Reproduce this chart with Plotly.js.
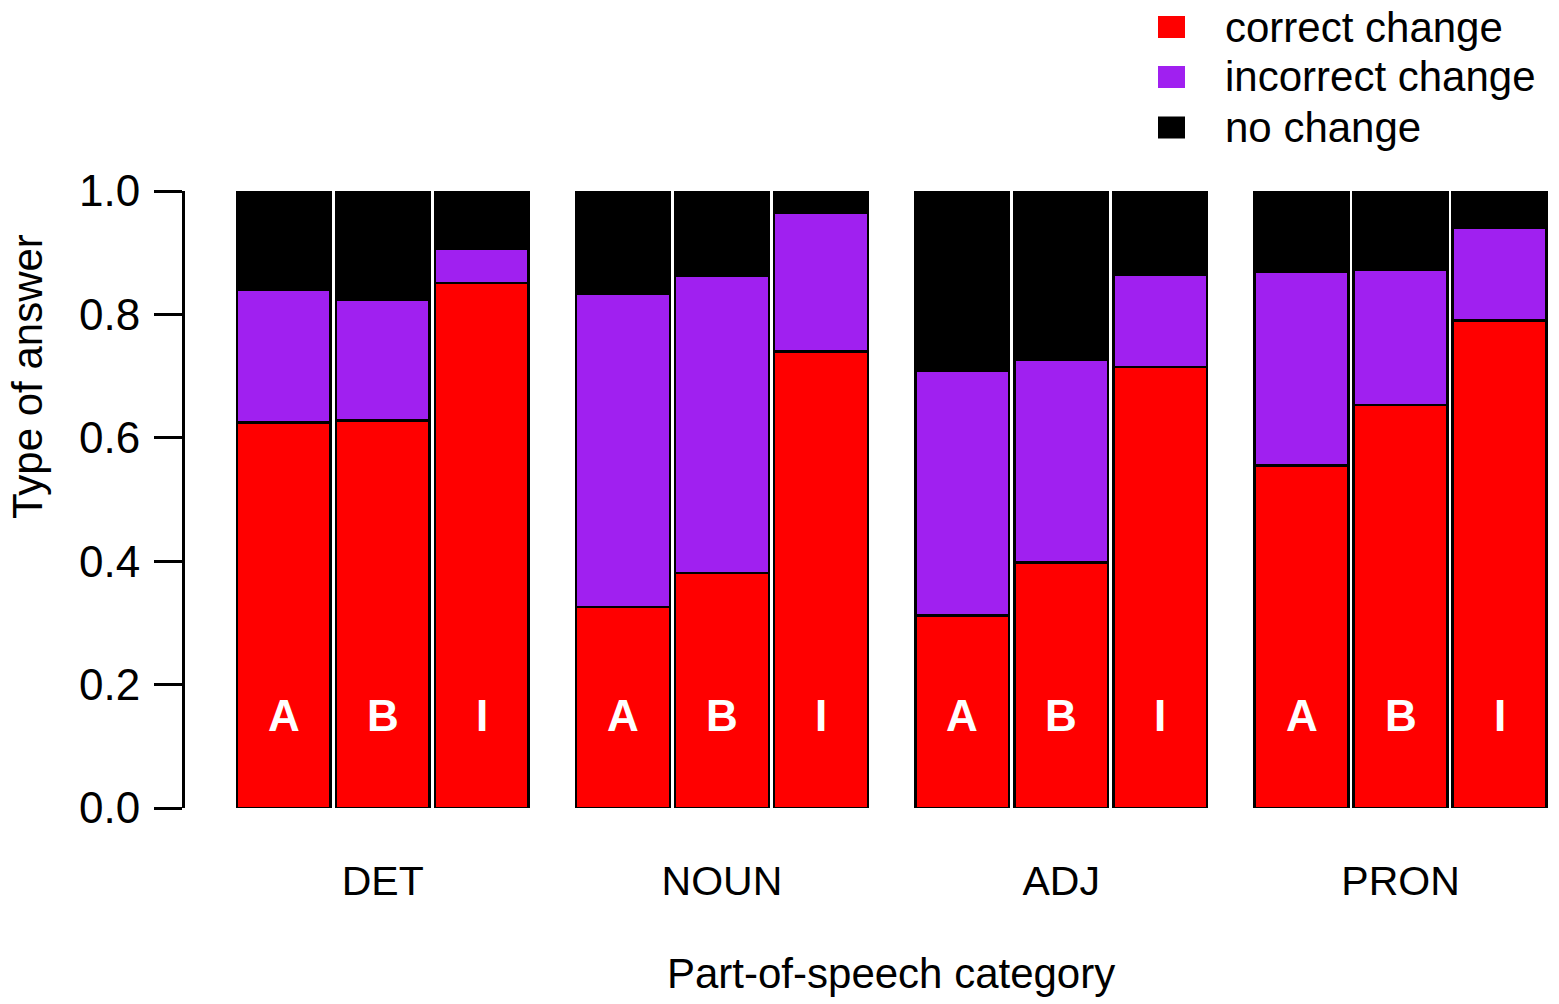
<!DOCTYPE html>
<html>
<head>
<meta charset="utf-8">
<script src="https://cdn.plot.ly/plotly-3.0.1.min.js"></script>
<style>html,body{margin:0;padding:0;background:#fff;}#chart{width:1559px;height:1004px;}</style>
</head>
<body>
<div id="chart"></div>
<script>
// ---- data ----
const categories = ["DET", "NOUN", "ADJ", "PRON"];
const conditions = ["A", "B", "I"];
// proportions per bar, order: DET A,B,I, NOUN A,B,I, ADJ A,B,I, PRON A,B,I
const correctChange   = [0.625, 0.628, 0.851, 0.326, 0.381, 0.740, 0.312, 0.398, 0.715, 0.555, 0.653, 0.790];
const incorrectChange = [0.215, 0.196, 0.055, 0.508, 0.481, 0.225, 0.396, 0.328, 0.150, 0.314, 0.220, 0.151];
const noChange        = [0.160, 0.176, 0.094, 0.166, 0.138, 0.035, 0.292, 0.274, 0.135, 0.131, 0.127, 0.059];
const seriesNames = ["correct change", "incorrect change", "no change"];
const seriesColors = ["#FF0000", "#A020F0", "#000000"];
const yTicks = [0, 0.2, 0.4, 0.6, 0.8, 1.0];
const yTickText = ["0.0", "0.2", "0.4", "0.6", "0.8", "1.0"];
const xTitle = "Part-of-speech category";
const yTitle = "Type of answer";

// ---- layout geometry ----
const groupStep = 3.427;
const xPos = [];
const xLetters = [];
categories.forEach((c, g) => conditions.forEach((k, j) => { xPos.push(g * groupStep + j); xLetters.push(k); }));
const groupCenters = categories.map((c, g) => g * groupStep + 1);

const FONT = "Liberation Sans, Arial, Helvetica, sans-serif";
const L = 185, R = 1554, T = 191, B = 808;
const px2x = p => (p - L) / (R - L);
const py2y = p => (B - p) / (B - T);

const allSeries = [correctChange, incorrectChange, noChange];
const traces = allSeries.map((vals, i) => ({
  type: "bar",
  x: xPos,
  y: vals,
  name: seriesNames[i],
  width: 0.945,
  marker: { color: seriesColors[i], line: { color: "#000", width: 2.5 } },
  showlegend: false,
  hoverinfo: "y+name"
}));

const annotations = [];
xPos.forEach((x, i) => annotations.push({
  x: x, y: 0.15, xref: "x", yref: "y", text: "<b>" + xLetters[i] + "</b>",
  showarrow: false, font: { family: FONT, size: 44, color: "#fff" }, xanchor: "center", yanchor: "middle"
}));

// axis titles (placed as in the reference)
annotations.push({ xref: "paper", yref: "paper", x: px2x(891), y: py2y(973), text: xTitle,
  showarrow: false, xanchor: "center", yanchor: "middle", font: { family: FONT, size: 42, color: "#000" } });
annotations.push({ xref: "paper", yref: "paper", x: px2x(27), y: py2y(377), text: yTitle, textangle: -90,
  showarrow: false, xanchor: "center", yanchor: "middle", font: { family: FONT, size: 42, color: "#000" } });

const shapes = [];
const legendRows = [27, 77, 127.5];
seriesNames.forEach((n, i) => {
  const cy = legendRows[i];
  shapes.push({ type: "rect", xref: "paper", yref: "paper",
    x0: px2x(1158), x1: px2x(1185), y0: py2y(cy - 11), y1: py2y(cy + 11),
    fillcolor: seriesColors[i], line: { width: 0 } });
  annotations.push({ xref: "paper", yref: "paper", x: px2x(1223), y: py2y(cy),
    text: n, showarrow: false, xanchor: "left", yanchor: "middle",
    font: { family: FONT, size: 42, color: "#000" } });
});

const layout = {
  width: 1559, height: 1004,
  margin: { l: L, r: 1559 - R, t: T, b: 1004 - B, pad: 0 },
  paper_bgcolor: "#fff", plot_bgcolor: "#fff",
  barmode: "stack",
  font: { family: FONT, color: "#000" },
  xaxis: {
    range: [-0.997, -0.997 + (R - L) / 99],
    tickvals: groupCenters, ticktext: categories,
    ticks: "", showline: false, showgrid: false, zeroline: false,
    tickfont: { family: FONT, size: 41, color: "#000" },
    ticklabelstandoff: 45,
    title: { text: "" },
    fixedrange: true
  },
  yaxis: {
    range: [0, 1],
    tickvals: yTicks, ticktext: yTickText,
    ticks: "outside", ticklen: 28, tickwidth: 3, tickcolor: "#000",
    showline: true, linewidth: 3, linecolor: "#000",
    showgrid: false, zeroline: false,
    tickfont: { family: FONT, size: 44, color: "#000" },
    ticklabelstandoff: 5,
    title: { text: "" },
    fixedrange: true
  },
  annotations: annotations,
  shapes: shapes
};

Plotly.newPlot("chart", traces, layout, { displayModeBar: false, staticPlot: true });
</script>
</body>
</html>
